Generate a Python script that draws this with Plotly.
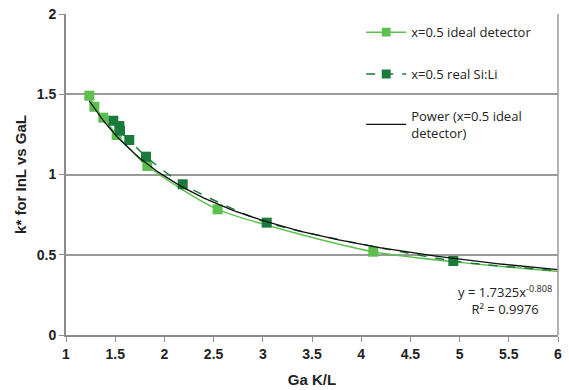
import plotly.graph_objects as go
import numpy as np

# Data
ideal_x = [1.237, 1.288, 1.379, 1.515, 1.826, 2.541, 4.123, 6.0]
ideal_y = [1.491, 1.422, 1.354, 1.246, 1.053, 0.783, 0.519, 0.395]
ideal_marker = [10, 10, 10, 10, 10, 10, 10, 0]

real_x = [1.481, 1.542, 1.549, 1.643, 1.813, 2.186, 3.04, 4.936, 6.0]
real_y = [1.335, 1.302, 1.273, 1.215, 1.111, 0.939, 0.700, 0.461, 0.400]
real_marker = [10, 10, 10, 10, 10, 10, 10, 10, 0]

trend_a = 1.7325
trend_b = -0.808
trend_x = np.linspace(1.237, 6.0, 120)
trend_y = trend_a * trend_x ** trend_b

x_ticks = [1, 1.5, 2, 2.5, 3, 3.5, 4, 4.5, 5, 5.5, 6]
y_ticks = [0, 0.5, 1, 1.5, 2]

light = "#5CBF4E"
dark = "#1A7A3C"

fig = go.Figure()
fig.add_trace(go.Scatter(
    x=ideal_x, y=ideal_y, mode="lines+markers", name="x=0.5 ideal detector",
    line=dict(color=light, width=1.5, shape="spline", smoothing=0.6),
    marker=dict(symbol="square", size=ideal_marker, color=light, opacity=1, line=dict(width=0)),
    legendgroup="a"))
fig.add_trace(go.Scatter(
    x=real_x, y=real_y, mode="lines+markers", name="x=0.5 real Si:Li",
    line=dict(color=dark, width=1.5, dash="dash", shape="spline", smoothing=0.6),
    marker=dict(symbol="square", size=real_marker, color=dark, opacity=1, line=dict(width=0)),
    legendgroup="b"))
fig.add_trace(go.Scatter(
    x=trend_x, y=trend_y, mode="lines", name="Power (x=0.5 ideal<br>detector)",
    line=dict(color="#111111", width=1.3),
    legendgroup="c"))

fig.add_annotation(
    x=5.46, y=0.215, xref="x", yref="y",
    text="y = 1.7325x<sup>-0.808</sup><br>R² = 0.9976",
    showarrow=False, align="center",
    font=dict(family="Open Sans, Liberation Sans, sans-serif", size=13, color="#222"))

tick_font = dict(family="Liberation Sans, Arial, sans-serif", size=14, color="#222", weight="bold")
title_font = dict(family="Liberation Sans, Arial, sans-serif", size=15, color="#222", weight="bold")

fig.update_layout(
    width=569, height=390,
    margin=dict(l=66, r=11, t=14, b=55, autoexpand=False),
    paper_bgcolor="white", plot_bgcolor="white",
    showlegend=True,
    legend=dict(
        x=0.6, y=0.99, xanchor="left", yanchor="top",
        bgcolor="rgba(0,0,0,0)", tracegroupgap=22,
        font=dict(family="Open Sans, Liberation Sans, sans-serif", size=13, color="#222"),
        itemwidth=40),
    xaxis=dict(
        range=[1, 6], tickvals=x_ticks, ticktext=[f"{v:g}" for v in x_ticks],
        showgrid=False, showline=True, linecolor="#8c8c8c", linewidth=2,
        ticks="outside", tickcolor="#8c8c8c", ticklen=5, automargin=False,
        tickfont=tick_font,
        title=dict(text="Ga K/L", font=title_font, standoff=14),
        zeroline=False),
    yaxis=dict(
        range=[0, 2], tickvals=y_ticks, ticktext=[f"{v:g}" for v in y_ticks],
        showgrid=True, gridcolor="#9a9a9a", gridwidth=1.5,
        showline=True, linecolor="#8c8c8c", linewidth=2,
        ticks="outside", tickcolor="#8c8c8c", ticklen=5, automargin=False,
        tickfont=tick_font,
        title=dict(text="k* for InL vs GaL", font=title_font, standoff=6),
        zeroline=False),
)

# right border line
fig.add_shape(type="line", xref="paper", yref="paper", x0=1, x1=1, y0=0, y1=1,
              line=dict(color="#9a9a9a", width=1.5))

fig.write_html("out.html")
